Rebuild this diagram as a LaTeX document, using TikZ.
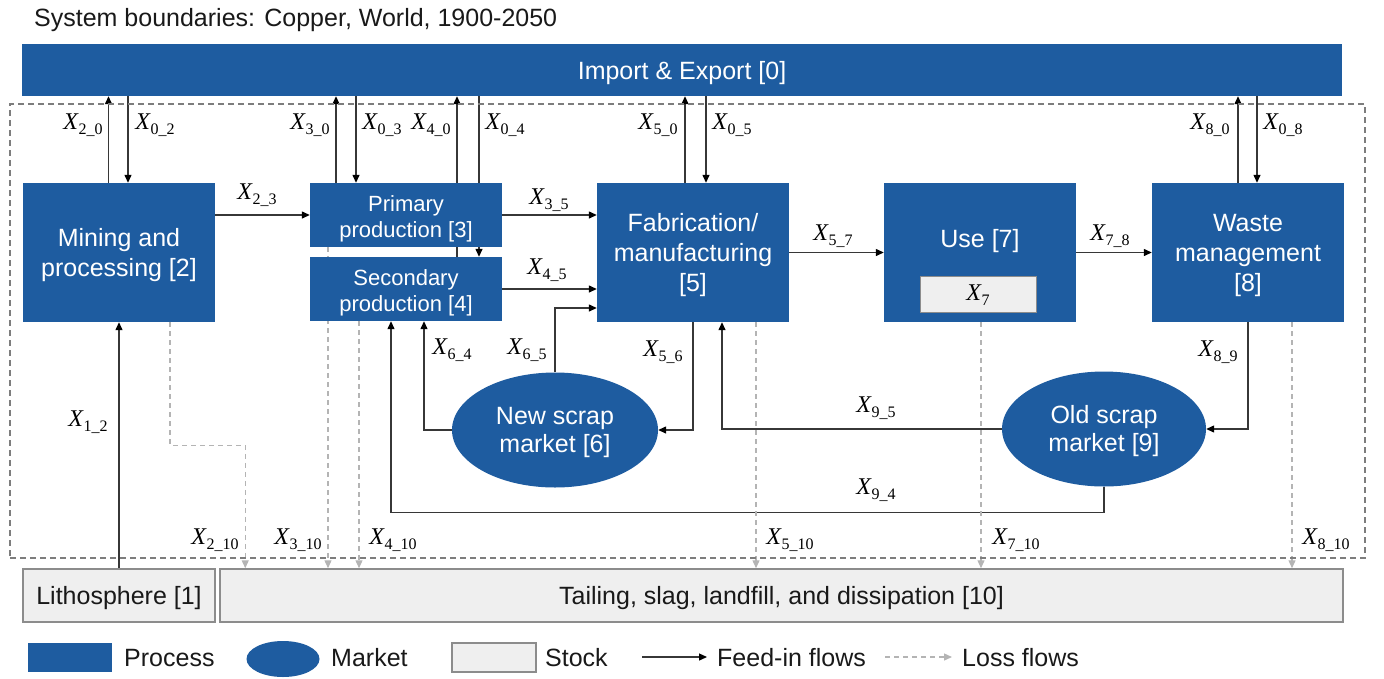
\documentclass[tikz,border=0pt]{standalone}
\usepackage{fontspec}
\setmainfont{Liberation Sans}
\newfontfamily\lblfont{Liberation Serif}
\usetikzlibrary{arrows.meta,shapes.geometric,backgrounds,calc}
\definecolor{pblue}{RGB}{30,92,160}
\definecolor{stockfill}{RGB}{239,239,239}
\definecolor{stockdraw}{RGB}{140,140,140}
\definecolor{flowcol}{RGB}{55,55,55}
\definecolor{losscol}{RGB}{180,180,180}
\definecolor{bndcol}{RGB}{125,125,125}
\definecolor{txtcol}{RGB}{25,25,25}
\newcommand{\flx}[2]{{\lblfont\itshape X}\kern0.5pt\raisebox{-5pt}{\fontsize{16}{16}\selectfont\lblfont #1\_#2}}
\newcommand{\flone}[1]{{\lblfont\itshape X}\kern0.5pt\raisebox{-5pt}{\fontsize{16}{16}\selectfont\lblfont #1}}
\begin{document}
\begin{tikzpicture}[x=1pt,y=-1pt,
  proc/.style={rectangle, fill=pblue, draw=none, inner sep=0pt},
  ptext/.style={text=white, align=center, inner sep=0pt, font=\fontsize{25}{30}\selectfont},
  ptexttwo/.style={ptext, font=\fontsize{22}{26}\selectfont},
  mkt/.style={ellipse, fill=pblue, draw=none, inner sep=0pt},
  mtext/.style={ptext, font=\fontsize{25}{28}\selectfont},
  stock/.style={rectangle, fill=stockfill, draw=stockdraw, line width=1.5pt, inner sep=0pt},
  stext/.style={text=txtcol, inner sep=0pt, font=\fontsize{25}{30}\selectfont},
  bnd/.style={rectangle, draw=bndcol, dash pattern=on 6pt off 4pt, line width=1.3pt, inner sep=0pt},
  flow/.style={draw=flowcol, line width=1.3pt, -{Triangle[length=8pt,width=7pt,fill=black,color=black]}},
  loss/.style={draw=losscol, line width=1.3pt, dash pattern=on 5pt off 4pt, -{Triangle[length=8pt,width=7pt,fill=losscol,color=losscol]}},
  lbl/.style={inner sep=0pt, text=black, font=\fontsize{24}{26}\selectfont},
  txt/.style={anchor=west, inner sep=0pt, text=txtcol, font=\fontsize{25}{30}\selectfont}
]
\useasboundingbox (0,0) rectangle (1384,678);

% title
\node[txt] (title) at (34,20) {System boundaries: Copper, World, 1900-2050};

% system boundary
\node[bnd, minimum width=1355, minimum height=454] (sysb) at (687.5,331) {};

% processes
\node[proc, minimum width=1320, minimum height=52] (bar) at (682,70) {};
\node[ptext] (bartxt) at ($(bar.center)+(0,3)$) {Import \& Export [0]};
\node[proc, minimum width=192, minimum height=139] (mine) at (119,252.5) {};
\node[ptext] (minetxt) at ($(mine.center)+(0,3)$) {Mining and\\processing [2]};
\node[proc, minimum width=192, minimum height=64] (prim) at (406,215) {};
\node[ptexttwo] (primtxt) at ($(prim.center)+(0,4)$) {Primary\\production [3]};
\node[proc, minimum width=192, minimum height=64] (sec) at (406,289) {};
\node[ptexttwo] (sectxt) at ($(sec.center)+(0,4)$) {Secondary\\production [4]};
\node[proc, minimum width=192, minimum height=139] (fab) at (693,252.5) {};
\node[ptext] (fabtxt) at ($(fab.center)+(0,3)$) {Fabrication/\\manufacturing\\{[5]}};
\node[proc, minimum width=192, minimum height=139] (use) at (980,252.5) {};
\node[ptext] (usetxt) at (980,241) {Use [7]};
\node[stock, line width=1pt, minimum width=116, minimum height=36] (x7) at (978,294) {};
\node[lbl] (x7txt) at (978,295) {\flone{7}};
\node[proc, minimum width=192, minimum height=139] (waste) at (1248,252.5) {};
\node[ptext] (wastetxt) at ($(waste.center)+(0,3)$) {Waste\\management\\{[8]}};

% markets
\node[mkt, minimum width=206, minimum height=115] (new) at (555,430) {};
\node[mtext] (newtxt) at ($(new.center)+(0,2)$) {New scrap\\market [6]};
\node[mkt, minimum width=204, minimum height=115] (old) at (1104,429) {};
\node[mtext] (oldtxt) at ($(old.center)+(0,2)$) {Old scrap\\market [9]};

% stocks
\node[stock, minimum width=192, minimum height=53] (litho) at (119,595.5) {};
\node[stext] (lithotxt) at ($(litho.center)+(0,3)$) {Lithosphere [1]};
\node[stock, minimum width=1123, minimum height=53] (tail) at (781.5,595.5) {};
\node[stext] (tailtxt) at ($(tail.center)+(0,3)$) {Tailing, slag, landfill, and dissipation [10]};

% connector coordinates
\coordinate (a20) at ($(mine.north)+(-10.5,0)$);
\coordinate (a02) at ($(mine.north)+(9,0)$);
\coordinate (a30) at ($(prim.north)+(-70,0)$);
\coordinate (a03) at ($(prim.north)+(-50,0)$);
\coordinate (a40) at ($(sec.north)+(51,0)$);
\coordinate (a04) at ($(sec.north)+(73,0)$);
\coordinate (a50) at ($(fab.north)+(-8,0)$);
\coordinate (a05) at ($(fab.north)+(13,0)$);
\coordinate (a80) at ($(waste.north)+(-10,0)$);
\coordinate (a08) at ($(waste.north)+(9,0)$);
\coordinate (l2) at ($(mine.south)+(51,0)$);
\coordinate (e2) at ($(tail.north west)+(26,0)$);
\coordinate (l3) at ($(prim.south)+(-78,0)$);
\coordinate (l4) at ($(sec.south)+(-47,0)$);
\coordinate (l5) at ($(fab.south)+(63,0)$);
\coordinate (l7) at ($(use.south)+(1,0)$);
\coordinate (l8) at ($(waste.south)+(44,0)$);
\coordinate (f65) at ($(fab.west)+(0,55.5)$);
\coordinate (s64) at ($(sec.south)+(18,0)$);
\coordinate (s94) at ($(sec.south)+(-15,0)$);
\coordinate (f95) at ($(fab.south)+(29,0)$);

\begin{pgfonlayer}{background}
% import / export
\draw[flow] (a20) -- (a20 |- bar.south);
\draw[flow] (a02 |- bar.south) -- (a02);
\draw[flow] (a30) -- (a30 |- bar.south);
\draw[flow] (a03 |- bar.south) -- (a03);
\draw[flow] (a40) -- (a40 |- bar.south);
\draw[flow] (a04 |- bar.south) -- (a04);
\draw[flow] (a50) -- (a50 |- bar.south);
\draw[flow] (a05 |- bar.south) -- (a05);
\draw[flow] (a80) -- (a80 |- bar.south);
\draw[flow] (a08 |- bar.south) -- (a08);
% main chain
\draw[flow] (litho.north) -- (mine.south);
\draw[flow] (mine.east |- prim.west) -- (prim.west);
\draw[flow] (prim.east) -- (fab.west |- prim.east);
\draw[flow] (sec.east) -- (fab.west |- sec.east);
\draw[flow] (fab.east) -- (use.west);
\draw[flow] (use.east) -- (waste.west);
% scrap loops
\draw[flow] (new.north) |- (f65);
\draw[flow] (new.west) -| (s64);
\draw[flow] (old.south) -- ++(0,25.5) -| (s94);
\draw[flow] (fab.south) |- (new.east);
\draw[flow] (old.west) -| (f95);
\draw[flow] (waste.south) |- (old.east);
% losses
\draw[loss] (l2) -- ++(0,123) -| (e2);
\draw[loss] (l3) -- (l3 |- tail.north);
\draw[loss] (l4) -- (l4 |- tail.north);
\draw[loss] (l5) -- (l5 |- tail.north);
\draw[loss] (l7) -- (l7 |- tail.north);
\draw[loss] (l8) -- (l8 |- tail.north);
\end{pgfonlayer}

% flow labels
\node[lbl] (t20) at (83,125) {\flx{2}{0}};
\node[lbl] (t02) at (155,125) {\flx{0}{2}};
\node[lbl] (t30) at (310,125) {\flx{3}{0}};
\node[lbl] (t03) at (382,125) {\flx{0}{3}};
\node[lbl] (t40) at (431,125) {\flx{4}{0}};
\node[lbl] (t04) at (505,125) {\flx{0}{4}};
\node[lbl] (t50) at (658,125) {\flx{5}{0}};
\node[lbl] (t05) at (732,125) {\flx{0}{5}};
\node[lbl] (t80) at (1210,125) {\flx{8}{0}};
\node[lbl] (t08) at (1283,125) {\flx{0}{8}};
\node[lbl] (t23) at (257,195) {\flx{2}{3}};
\node[lbl] (t35) at (549,200) {\flx{3}{5}};
\node[lbl] (t45) at (547,270) {\flx{4}{5}};
\node[lbl] (t57) at (833,236) {\flx{5}{7}};
\node[lbl] (t78) at (1110,236) {\flx{7}{8}};
\node[lbl] (t12) at (88,422) {\flx{1}{2}};
\node[lbl] (t64) at (452,350) {\flx{6}{4}};
\node[lbl] (t65) at (527,350) {\flx{6}{5}};
\node[lbl] (t56) at (663,352) {\flx{5}{6}};
\node[lbl] (t89) at (1218,352) {\flx{8}{9}};
\node[lbl] (t95) at (876,408) {\flx{9}{5}};
\node[lbl] (t94) at (876,490) {\flx{9}{4}};
\node[lbl] (t210) at (215,540) {\flx{2}{10}};
\node[lbl] (t310) at (298,540) {\flx{3}{10}};
\node[lbl] (t410) at (393,540) {\flx{4}{10}};
\node[lbl] (t510) at (790,540) {\flx{5}{10}};
\node[lbl] (t710) at (1016,540) {\flx{7}{10}};
\node[lbl] (t810) at (1326,540) {\flx{8}{10}};

% legend
\node[proc, minimum width=84, minimum height=29] (lgp) at (70,657.5) {};
\node[txt] (lgpt) at (124,658) {Process};
\node[mkt, minimum width=73, minimum height=36] (lgm) at (283,659) {};
\node[txt] (lgmt) at (331,658) {Market};
\node[stock, minimum width=84, minimum height=29] (lgs) at (494,657.5) {};
\node[txt] (lgst) at (545,658) {Stock};
\coordinate (lf1) at (642,657);
\coordinate (lf2) at (707,657);
\draw[flow] (lf1) -- (lf2);
\node[txt] (lgft) at (717,658) {Feed-in flows};
\coordinate (ll1) at (885,657);
\coordinate (ll2) at (952,657);
\draw[loss] (ll1) -- (ll2);
\node[txt] (lglt) at (962,658) {Loss flows};
\end{tikzpicture}
\end{document}
